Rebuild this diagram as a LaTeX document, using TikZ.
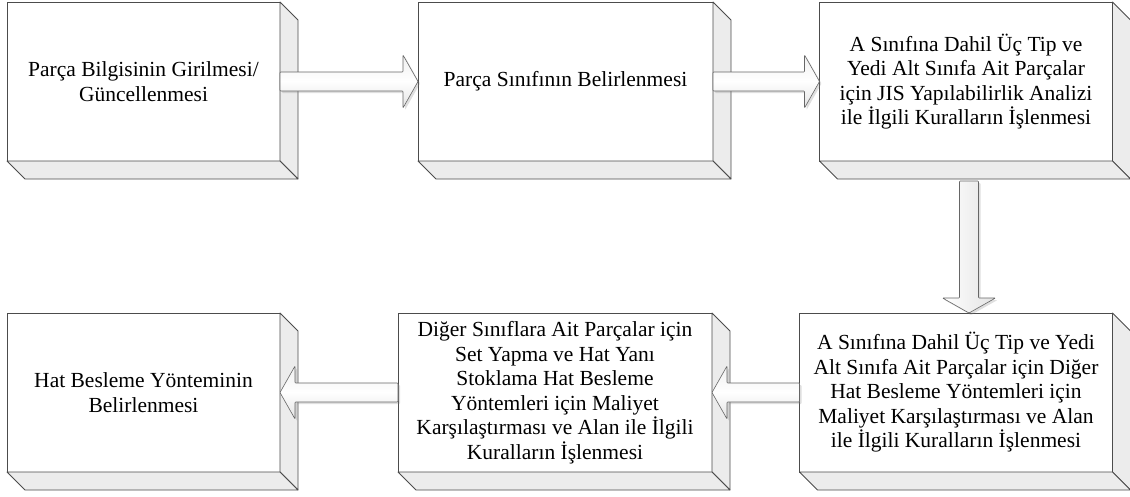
\documentclass[tikz,border=0pt]{standalone}
\usepackage{fontspec}
\setmainfont{Liberation Serif}
\usetikzlibrary{calc, shadows}

% block arrow from tail to tip
\newcommand{\blockarrow}[3][]{%
    \coordinate (neck) at ($(#3)!15pt!(#2)$);
    \draw[barrow, #1] ($(#2)!9.5pt!90:(#3)$) -- ($(neck)!9.5pt!90:(#3)$) -- ($(neck)!26.5pt!90:(#3)$) -- (#3)
        -- ($(neck)!26.5pt!-90:(#3)$) -- ($(neck)!9.5pt!-90:(#3)$) -- ($(#2)!9.5pt!-90:(#3)$) -- cycle;
}

\begin{document}
\begin{tikzpicture}[
        x=1pt, y=-1pt,
        every node/.style={font=\fontsize{21.5}{24.5}\selectfont},
        stage/.style={rectangle, draw=black!70, fill=white, line width=0.8pt, outer sep=0pt, align=center, minimum height=159pt, minimum width=#1},
        face/.style={draw=black!70, fill=gray!15, line width=0.8pt, line join=round},
        barrow/.style={draw=black!60, line width=0.6pt, rounded corners=0.8pt, top color=gray!12, bottom color=gray!22, middle color=white,
            drop shadow={shadow xshift=2pt, shadow yshift=-2pt, opacity=0.25, fill=gray}}
    ]
    \useasboundingbox (0,0) rectangle (1130,496);
%
    % Stages
    \node[stage=273pt] (girdi) at (143.5, 81.5) {Parça Bilgisinin Girilmesi/\\Güncellenmesi};
    \node[stage=295pt] (sinif) at (565.5, 81.5) {Parça Sınıfının Belirlenmesi};
    \node[stage=293pt] (jis) at (966, 81.5) {A Sınıfına Dahil Üç Tip ve\\Yedi Alt Sınıfa Ait Parçalar\\için JIS Yapılabilirlik Analizi\\ile İlgili Kuralların İşlenmesi};
    \node[stage=313pt] (maliyet) at (956, 392.5) {A Sınıfına Dahil Üç Tip ve Yedi\\Alt Sınıfa Ait Parçalar için Diğer\\Hat Besleme Yöntemleri için\\Maliyet Karşılaştırması ve Alan\\ile İlgili Kuralların İşlenmesi};
    \node[stage=314pt] (diger) at (555, 392.5) {Diğer Sınıflara Ait Parçalar için\\Set Yapma ve Hat Yanı\\Stoklama Hat Besleme\\Yöntemleri için Maliyet\\Karşılaştırması ve Alan ile İlgili\\Kuralların İşlenmesi};
    \node[stage=273pt] (yontem) at (143.5, 392.5) {Hat Besleme Yönteminin\\Belirlenmesi};
%
    % 3D depth
    \foreach \n in {girdi, sinif, jis, maliyet, diger, yontem} {
        \draw[face] (\n.north east) -- ++(18,18) -- ($(\n.south east)+(18,18)$) -- (\n.south east) -- cycle;
        \draw[face] (\n.south west) -- ++(18,18) -- ($(\n.south east)+(18,18)$) -- (\n.south east) -- cycle;
    }
%
    % Arrows
    \coordinate (jisalt) at ($(jis.south)+(3,20)$);
    \coordinate (malust) at (jisalt |- maliyet.north);
    \blockarrow{girdi.east}{sinif.west}
    \blockarrow{sinif.east}{jis.west}
    \blockarrow[left color=white, right color=gray!22]{jisalt}{malust}
    \blockarrow{maliyet.west}{diger.east}
    \blockarrow{diger.west}{yontem.east}
%
\end{tikzpicture}
\end{document}
